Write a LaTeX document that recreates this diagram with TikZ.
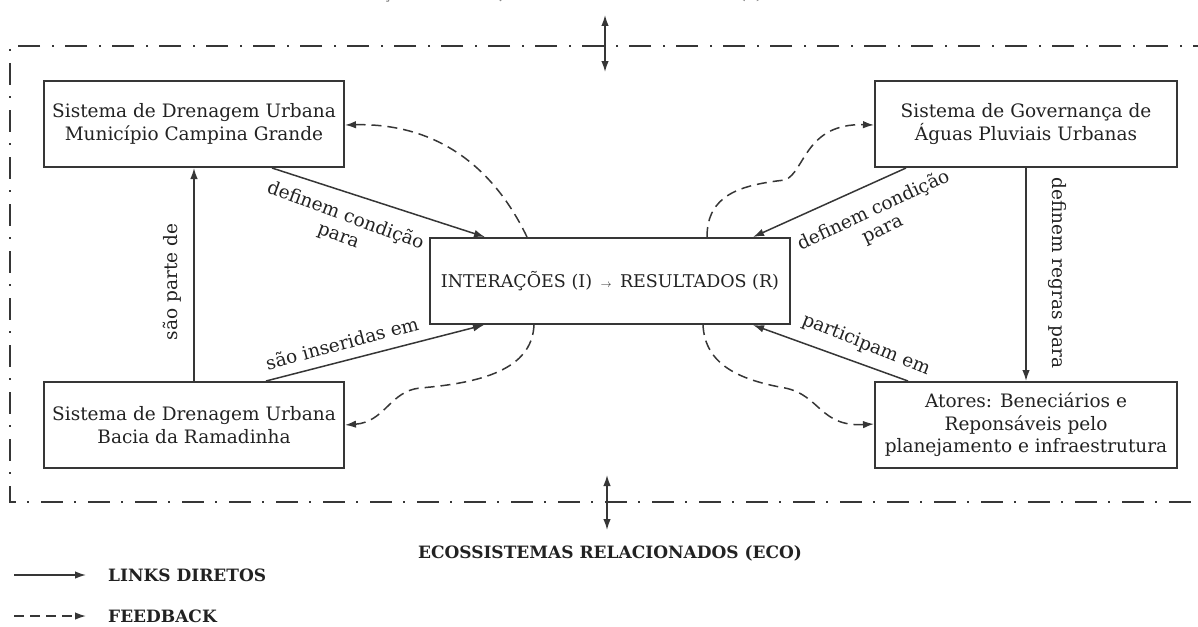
\documentclass[tikz,border=0pt]{standalone}
\usepackage{fontspec}
\setmainfont{DejaVu Serif}
\usetikzlibrary{arrows.meta,calc}
\definecolor{ink}{HTML}{363636}
\definecolor{txt}{HTML}{222222}
\begin{document}
\begin{tikzpicture}[x=1pt,y=-1pt,
  box/.style={draw=ink, line width=2pt, minimum height=86pt, align=center,
    font=\fontsize{18.5}{22.5}\selectfont, text=txt, inner sep=0pt},
  tip/.style={-{Latex[length=11pt,width=7.5pt]}},
  link/.style={draw=ink, line width=1.5pt, tip},
  fb/.style={draw=ink, line width=1.5pt, dash pattern=on 10pt off 6pt, tip},
  lbl/.style={font=\fontsize{18.5}{21}\selectfont, text=txt, align=center, inner sep=0pt},
  frame/.style={draw=ink, line width=2pt, dash pattern=on 22pt off 11pt on 2pt off 12pt},
  head/.style={font=\bfseries\fontsize{17}{17}\selectfont, text=txt, inner sep=0pt}]
\useasboundingbox (0,0) rectangle (1198,626);

% outer frame (extends beyond the right edge)
\draw[frame] (1215,46) -- (10,46) -- (10,502) -- (1215,502);

% boxes
\node[box, minimum width=300pt] (b1) at (194,124) {Sistema de Drenagem Urbana\\Município Campina Grande};
\node[box, minimum width=300pt] (b2) at (194,425) {Sistema de Drenagem Urbana\\Bacia da Ramadinha};
\node[box, minimum width=302pt] (b3) at (1026,124) {Sistema de Governança de\\Águas Pluviais Urbanas};
\node[box, minimum width=302pt] (b4) at (1026,425) {Atores: Beneciários e\\Reponsáveis pelo\\planejamento e infraestrutura};
\node[box, minimum width=360pt, font=\fontsize{17.5}{22}\selectfont] (c) at (610,281) {INTERAÇÕES (I) \,{\fontsize{11}{11}\selectfont$\rightarrow$}\, RESULTADOS (R)};

% direct links
\draw[link] (b2.north) -- (b1.south);
\draw[link] (b3.south) -- (b4.north);
\draw[link] ([xshift=78pt]b1.south) -- ([xshift=-125pt]c.north);
\draw[link] ([xshift=-120pt]b3.south) -- ([xshift=143pt]c.north);
\draw[link] ([xshift=72pt]b2.north) -- ([xshift=-126pt]c.south);
\draw[link] ([xshift=-118pt]b4.north) -- ([xshift=143pt]c.south);

% labels
\node[lbl, rotate=-20] (l1) at (342,226) {definem condição\\para};
\node[lbl, rotate=25] (l2) at (878,220) {definem condição\\para};
\node[lbl, rotate=15] (l3) at (342,343) {são inseridas em};
\node[lbl, rotate=-22] (l4) at (866,345) {participam em};
\node[lbl, rotate=90] (l5) at (172,282) {são parte de};
\node[lbl, rotate=-90] (l6) at (1057,273) {definem regras para};

% feedback
\draw[fb] ([xshift=-83pt]c.north) .. controls (490,160) and (430,123) .. ([yshift=-1pt]b1.east);
\coordinate (m2) at (785,180);
\draw[fb] ([xshift=97pt]c.north) .. controls (707,195) and (740,185) .. (m2)
  .. controls (805,172) and (805,123) .. ([yshift=-1pt]b3.west);
\coordinate (m3) at (420,388);
\draw[fb] ([xshift=-76pt]c.south) .. controls (532,370) and (480,383) .. (m3)
  .. controls (390,391) and (385,422) .. (b2.east);
\coordinate (m4) at (785,388);
\draw[fb] ([xshift=93pt]c.south) .. controls (705,365) and (740,380) .. (m4)
  .. controls (820,395) and (820,427) .. ([yshift=1pt]b4.west);

% outer relations
\coordinate (ta) at (605,15); \coordinate (tb) at (605,72);
\draw[draw=ink, line width=1.5pt, {Latex[length=11pt,width=7.5pt]}-{Latex[length=11pt,width=7.5pt]}] (ta) -- (tb);
\coordinate (ba) at (607,475); \coordinate (bb) at (607,530);
\draw[draw=ink, line width=1.5pt, {Latex[length=11pt,width=7.5pt]}-{Latex[length=11pt,width=7.5pt]}] (ba) -- (bb);
\node[head, anchor=base, font=\bfseries\fontsize{14.2}{14}\selectfont, text=txt!55] (top) at (522,0) {CONFIGURAÇÕES SOCIAIS, ECONÔMICAS E POLÍTICAS (S)};
\node[head] (eco) at (610,553) {ECOSSISTEMAS RELACIONADOS (ECO)};

% legend
\coordinate (k1a) at (14,575); \coordinate (k1b) at (86,575);
\draw[link] (k1a) -- (k1b);
\node[head, anchor=west] (k1) at (108,575) {LINKS DIRETOS};
\coordinate (k2a) at (14,616); \coordinate (k2b) at (86,616);
\draw[fb] (k2a) -- (k2b);
\node[head, anchor=west] (k2) at (108,616) {FEEDBACK};
\end{tikzpicture}
\end{document}
